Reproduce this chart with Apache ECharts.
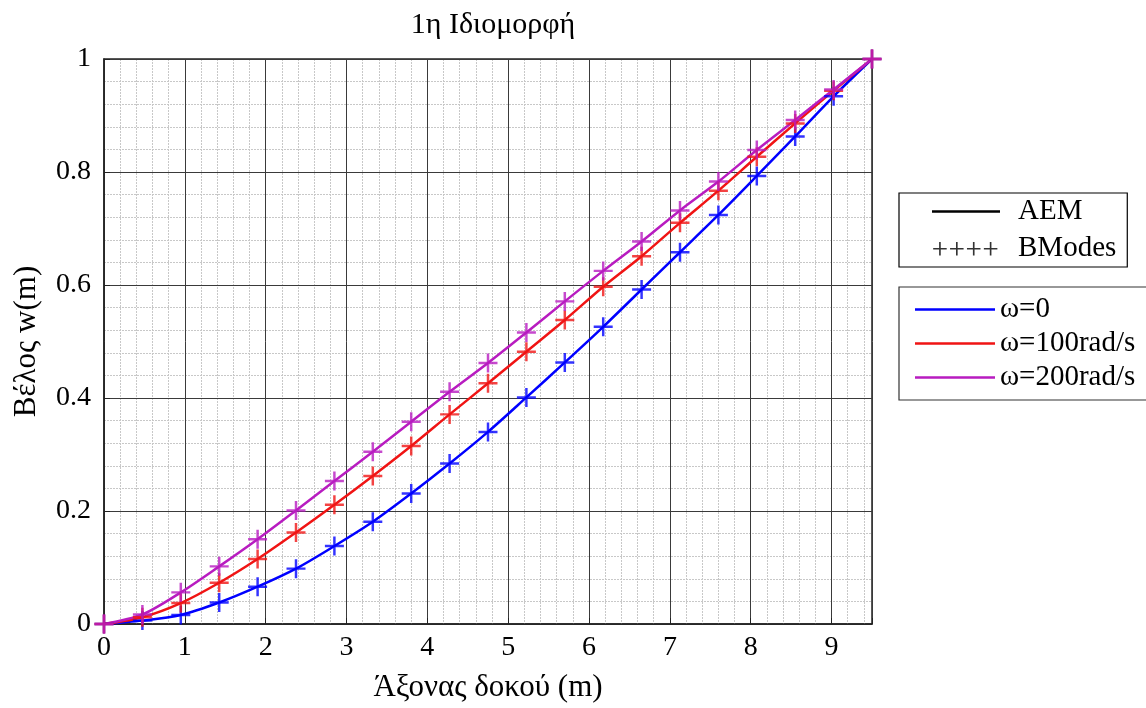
<!DOCTYPE html>
<html>
<head>
<meta charset="utf-8">
<script src="https://cdn.jsdelivr.net/npm/echarts@6/dist/echarts.min.js"></script>
<style>html,body{margin:0;padding:0;background:#fff;}#c{width:1146px;height:708px;}</style>
</head>
<body>
<div id="c"></div>
<script>
// Positions along the beam (m)
const xPos = [0, 0.475, 0.95, 1.425, 1.9, 2.375, 2.85, 3.325, 3.8, 4.275, 4.75, 5.225, 5.7, 6.175, 6.65, 7.125, 7.6, 8.075, 8.55, 9.025, 9.5];
// Mode shape values w(m)
const w0   = [0, 0.006, 0.016, 0.038, 0.066, 0.098, 0.138, 0.181, 0.231, 0.284, 0.340, 0.401, 0.463, 0.526, 0.592, 0.658, 0.724, 0.793, 0.863, 0.934, 1.0];
const w100 = [0, 0.012, 0.037, 0.073, 0.115, 0.162, 0.211, 0.262, 0.315, 0.371, 0.426, 0.482, 0.538, 0.597, 0.651, 0.710, 0.767, 0.827, 0.886, 0.944, 1.0];
const w200 = [0, 0.017, 0.056, 0.102, 0.150, 0.201, 0.253, 0.305, 0.358, 0.411, 0.462, 0.516, 0.571, 0.625, 0.677, 0.732, 0.783, 0.839, 0.892, 0.946, 1.0];
const seriesNames = ['ω=0', 'ω=100rad/s', 'ω=200rad/s'];
const seriesColors = ['#0000ff', '#f01414', '#b81cc0'];
const seriesData = [w0, w100, w200];
const xTicks = [0,1,2,3,4,5,6,7,8,9];
const yTicks = [0, 0.2, 0.4, 0.6, 0.8, 1];

const FONT = 'Liberation Serif';
const plus = 'path://M-1.3,-10L1.3,-10L1.3,-1.3L10,-1.3L10,1.3L1.3,1.3L1.3,10L-1.3,10L-1.3,1.3L-10,1.3L-10,-1.3L-1.3,-1.3Z';
function plusRow() {
  let p = 'M0,0L0.01,0L0,0.01ZM68,14L67.99,14L68,13.99Z';
  [7, 24.5, 42, 59.5].forEach(c => {
    const a = 7, t = 0.85, cy = 7.5;
    p += `M${c-t},${cy-a}L${c+t},${cy-a}L${c+t},${cy-t}L${c+a},${cy-t}L${c+a},${cy+t}L${c+t},${cy+t}L${c+t},${cy+a}L${c-t},${cy+a}L${c-t},${cy+t}L${c-a},${cy+t}L${c-a},${cy-t}L${c-t},${cy-t}Z`;
  });
  return 'path://' + p;
}
function lineIcon(w, th) {
  const y0 = 7 - th / 2, y1 = 7 + th / 2;
  return `path://M0,0L0.01,0L0,0.01ZM${w},14L${w-0.01},14L${w},13.99ZM0,${y0}L${w},${y0}L${w},${y1}L0,${y1}Z`;
}

const series = [];
seriesData.forEach((d, i) => {
  const pts = xPos.map((x, k) => [x, d[k]]);
  series.push({
    name: seriesNames[i], type: 'line', smooth: 0.3, symbol: 'none',
    xAxisIndex: 0, yAxisIndex: 0, z: 3,
    lineStyle: { color: seriesColors[i], width: 2.5 }, itemStyle: { color: seriesColors[i] },
    data: pts
  });
  series.push({
    name: seriesNames[i] + ' BModes', type: 'scatter', symbol: plus, symbolSize: 19,
    xAxisIndex: 0, yAxisIndex: 0, z: 4,
    itemStyle: { color: seriesColors[i] },
    data: pts
  });
});
series.push({ name: 'AEM', type: 'line', symbol: 'none', data: [], lineStyle: { color: '#000', width: 2 }, itemStyle: { color: '#000' } });
series.push({ name: 'BModes', type: 'scatter', symbol: plus, data: [], itemStyle: { color: '#000' } });

const chart = echarts.init(document.getElementById('c'), null, { renderer: 'canvas' });
chart.setOption({
  backgroundColor: '#fff',
  animation: false,
  title: {
    text: '1η Ιδιομορφή', left: 488, top: 5, textAlign: 'center',
    textStyle: { fontFamily: FONT, fontSize: 30, fontWeight: 'normal', color: '#000' }
  },
  grid: { left: 104, right: 274, top: 59, bottom: 83, show: true, borderColor: '#222', borderWidth: 1.5, backgroundColor: 'transparent' },
  legend: [
    {
      data: [{ name: 'AEM', icon: lineIcon(68, 2.5) }, { name: 'BModes', icon: plusRow() }],
      orient: 'vertical', left: 899, top: 193,
      itemWidth: 68, itemHeight: 14, itemGap: 8,
      padding: [4, 11, 4, 33],
      borderColor: '#000', borderWidth: 1.2,
      textStyle: { fontFamily: FONT, fontSize: 29, color: '#000', padding: [0, 0, 0, 13] },
      selectedMode: false
    },
    {
      data: seriesNames.map(n => ({ name: n, icon: lineIcon(80, 2.5) })),
      orient: 'vertical', left: 899, top: 287,
      itemWidth: 80, itemHeight: 14, itemGap: 5,
      padding: [8, 12, 8, 16],
      borderColor: '#333', borderWidth: 1.2,
      textStyle: { fontFamily: FONT, fontSize: 29, color: '#000', padding: [0, 0, 0, 0] },
      selectedMode: false
    }
  ],
  xAxis: [
    {
      type: 'value', min: 0, max: 9.5, interval: 1, z: 1,
      name: 'Άξονας δοκού (m)', nameLocation: 'middle', nameGap: 48,
      nameTextStyle: { fontFamily: FONT, fontSize: 31, color: '#000' },
      axisLine: { show: true, lineStyle: { color: '#222', width: 1.5 } },
      axisTick: { show: true, inside: true, length: 6, lineStyle: { color: '#222' } },
      axisLabel: {
        fontFamily: FONT, fontSize: 28, color: '#000', margin: 10,
        formatter: v => (xTicks.indexOf(v) >= 0 ? String(v) : '')
      },
      splitLine: { show: true, lineStyle: { color: '#3a3a3a', width: 1 } }
    },
    {
      type: 'value', min: 0, max: 9.5, interval: 0.2, z: 0,
      axisLine: { show: false }, axisTick: { show: false }, axisLabel: { show: false },
      splitLine: { show: true, lineStyle: { color: '#c8c8c8', width: 1, type: [2, 1] } }
    }
  ],
  yAxis: [
    {
      type: 'value', min: 0, max: 1, interval: 0.2, z: 1,
      name: 'Βέλος w(m)', nameLocation: 'middle', nameGap: 62, nameRotate: 90,
      nameTextStyle: { fontFamily: FONT, fontSize: 31, color: '#000' },
      axisLine: { show: true, lineStyle: { color: '#222', width: 1.5 } },
      axisTick: { show: true, inside: true, length: 6, lineStyle: { color: '#222' } },
      axisLabel: {
        fontFamily: FONT, fontSize: 28, color: '#000', margin: 13,
        formatter: v => { const t = yTicks.find(q => Math.abs(q - v) < 1e-9); return t === undefined ? '' : String(t); }
      },
      splitLine: { show: true, lineStyle: { color: '#3a3a3a', width: 1 } }
    },
    {
      type: 'value', min: 0, max: 1, interval: 0.04, z: 0,
      axisLine: { show: false }, axisTick: { show: false }, axisLabel: { show: false },
      splitLine: { show: true, lineStyle: { color: '#c8c8c8', width: 1, type: [2, 1] } }
    }
  ],
  series: series
});
</script>
</body>
</html>
